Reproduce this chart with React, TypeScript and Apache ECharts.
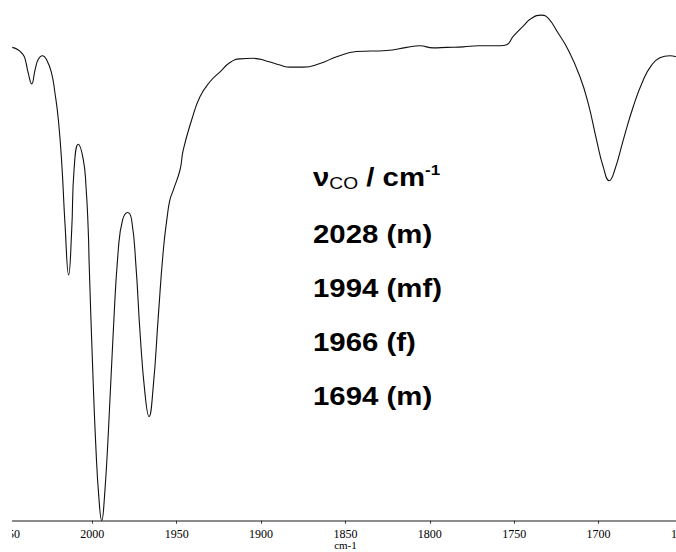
import React, { useEffect, useRef } from "react";
import * as echarts from "echarts";

// IR spectrum, wavenumber (cm-1) vs transmittance (arbitrary %, axis bottom = 0)
const wavenumbers: number[] = [
  2047.4, 2043.8, 2041.2, 2039.9, 2037.9, 2035.9, 2033.9, 2032.0, 2029.6, 2027.0,
  2024.1, 2022.1, 2020.1, 2018.1, 2016.2, 2014.0, 2012.2, 2010.8, 2008.3, 2005.3,
  2003.7, 2002.4, 2001.8, 1999.8, 1997.8, 1996.0, 1994.4, 1992.9, 1990.5, 1987.6,
  1984.6, 1982.0, 1979.0, 1976.7, 1974.1, 1971.7, 1968.8, 1966.4, 1963.9, 1960.9,
  1957.9, 1955.6, 1954.0, 1952.0, 1948.0, 1946.1, 1941.1, 1936.2, 1930.3, 1924.3,
  1918.4, 1912.5, 1904.6, 1895.9, 1888.8, 1882.9, 1875.0, 1865.1, 1855.2, 1843.4,
  1825.6, 1813.7, 1805.9, 1798.0, 1790.1, 1780.2, 1771.3, 1758.5, 1754.5, 1750.6,
  1744.7, 1739.7, 1733.8, 1729.9, 1723.9, 1718.0, 1711.1, 1706.2, 1701.2, 1697.3,
  1693.7, 1690.4, 1685.4, 1679.5, 1673.6, 1668.6, 1663.7, 1657.8, 1654.2,
];
const transmittance: number[] = [
  90.9, 90.4, 89.6, 88.8, 85.9, 83.9, 86.6, 88.6, 89.3, 88.5,
  85.9, 82.1, 77.0, 68.7, 57.2, 47.2, 55.8, 67.4, 72.3, 69.3,
  64.1, 55.8, 48.8, 29.6, 13.6, 4.0, 0.0, 4.0, 16.8, 36.1,
  52.0, 57.8, 59.2, 57.8, 48.8, 36.1, 24.5, 20.0, 25.7, 39.2,
  52.0, 58.4, 61.6, 63.5, 67.4, 71.2, 77.0, 81.4, 84.3, 86.2,
  88.0, 88.7, 88.8, 88.2, 87.5, 87.1, 87.1, 87.8, 89.1, 90.1,
  90.3, 90.9, 91.2, 90.8, 90.9, 91.0, 91.2, 91.2, 91.4, 93.0,
  95.0, 96.5, 97.1, 96.5, 93.6, 90.4, 85.3, 80.2, 73.1, 68.0,
  65.3, 67.4, 73.1, 79.5, 84.6, 87.5, 88.9, 89.3, 89.1,
];

const axisMin = 1650;
const axisMax = 2050;
const axisStep = 50;
const axisTitle = "cm-1";

const bandLines: string[] = ["2028 (m)", "1994 (mf)", "1966 (f)", "1694 (m)"];

export default function App() {
  const ref = useRef<HTMLDivElement>(null);
  useEffect(() => {
    if (!ref.current) return;
    const chart = echarts.init(ref.current, undefined, { renderer: "svg" });
    const data = wavenumbers.map((w, i) => [w, transmittance[i]]);
    const txtFont = "'Liberation Sans', Arial, sans-serif";
    const serif = "'Liberation Serif', 'Times New Roman', serif";
    const lineYs = [234, 288, 342, 396];
    chart.setOption({
      animation: false,
      backgroundColor: "#ffffff",
      grid: {
        left: 7.9,
        right: -7,
        top: 0,
        bottom: 31.3,
        containLabel: false,
        outerBoundsMode: "none",
      },
      xAxis: {
        type: "value",
        inverse: true,
        min: axisMin,
        max: axisMax,
        interval: axisStep,
        name: axisTitle,
        nameLocation: "middle",
        nameGap: 19,
        nameMoveOverlap: false,
        nameTextStyle: { fontFamily: serif, fontSize: 11, color: "#000", verticalAlign: "top" },
        axisLine: { lineStyle: { color: "#666", width: 1.5 } },
        axisTick: { show: true, length: 3, lineStyle: { color: "#333" } },
        axisLabel: {
          margin: 7,
          fontFamily: serif,
          fontSize: 12,
          color: "#000",
          formatter: (v: number) => String(v),
        },
        splitLine: { show: false },
      },
      yAxis: {
        type: "value",
        min: 0,
        max: 100,
        show: false,
      },
      series: [
        {
          type: "line",
          data,
          smooth: 0.5,
          showSymbol: false,
          lineStyle: { color: "#111", width: 1.1 },
        },
      ],
      graphic: [
        {
          type: "rect",
          shape: { x: 0, y: 505, width: 12, height: 47 },
          style: { fill: "#ffffff" },
          z: 100,
        },
        {
          type: "text",
          x: 313,
          y: 177,
          scaleX: 1.13,
          style: {
            text: "{n|ν}{s|CO}{n| / cm}{p|-1}",
            verticalAlign: "middle",
            rich: {
              n: { fontSize: 26, fontWeight: "bold", fontFamily: txtFont, fill: "#000", lineHeight: 30 },
              s: { fontSize: 17, fontFamily: txtFont, fill: "#000", verticalAlign: "bottom" },
              p: { fontSize: 15, fontWeight: "bold", fontFamily: txtFont, fill: "#000", verticalAlign: "top" },
            },
          },
          z: 50,
        },
        ...bandLines.map((t, i) => ({
          type: "text",
          x: 313,
          y: lineYs[i],
          scaleX: 1.13,
          style: {
            text: t,
            fontSize: 26,
            fontWeight: "bold",
            fontFamily: txtFont,
            fill: "#000",
            verticalAlign: "middle",
          },
          z: 50,
        })),
      ],
    });
    return () => chart.dispose();
  }, []);
  return (
    <div
      style={{
        position: "fixed",
        left: 0,
        top: 0,
        width: 676,
        height: 552,
        overflow: "hidden",
        background: "#fff",
      }}
    >
      <div ref={ref} style={{ width: 676, height: 552 }} />
    </div>
  );
}
